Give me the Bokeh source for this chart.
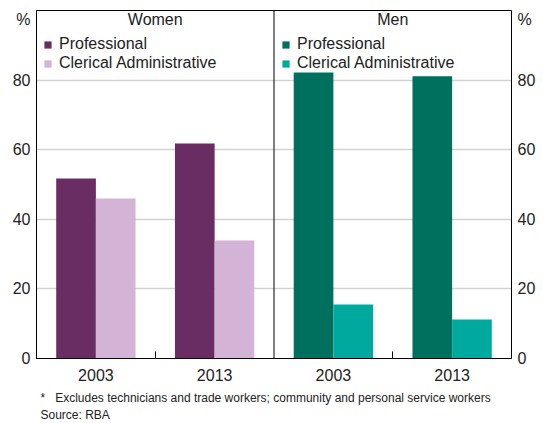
from bokeh.plotting import figure
from bokeh.models import (ColumnDataSource, Range1d, FixedTicker, LinearAxis, Span,
                          Label, Legend, LegendItem, Title)
from bokeh.transform import dodge
from bokeh.embed import file_html
from bokeh.resources import INLINE

# ---- data ----
years = ["2003", "2013"]
panels = ["Women", "Men"]
series = ["Professional", "Clerical Administrative"]
women_prof = [51.7, 61.8]
women_cler = [46.0, 33.9]
men_prof = [82.2, 81.1]
men_cler = [15.5, 11.2]
y_ticks = [0, 20, 40, 60, 80]
unit_label = "%"
footnote = "*\u00a0\u00a0\u00a0Excludes technicians and trade workers; community and personal service workers"
source_note = "Source: RBA"

women_colors = ["#6a2d63", "#d4b4d6"]
men_colors = ["#00705e", "#00a99d"]

FONT = "Liberation Sans"
TXT = "#222222"

# x positions: panel i, year j -> 2*i + j + 0.5
women_x = [j + 0.5 for j in range(len(years))]
men_x = [2 + j + 0.5 for j in range(len(years))]
tick_x = women_x + men_x
tick_labels = years + years

src_w = ColumnDataSource(dict(x=women_x, prof=women_prof, cler=women_cler))
src_m = ColumnDataSource(dict(x=men_x, prof=men_prof, cler=men_cler))

p = figure(width=546, height=423, output_backend="svg", toolbar_location=None,
           x_range=Range1d(0, 4), y_range=Range1d(0, 100),
           min_border_left=36, min_border_right=35, min_border_top=10, min_border_bottom=65,
           y_axis_location=None, x_axis_location=None)
p.outline_line_color = "black"
p.outline_line_width = 1
p.background_fill_color = "white"
p.border_fill_color = "white"

bw = 0.334
d = 0.167
r_wp = p.vbar(x=dodge("x", -d), top="prof", width=bw, source=src_w, color=women_colors[0], line_width=0)
r_wc = p.vbar(x=dodge("x", d), top="cler", width=bw, source=src_w, color=women_colors[1], line_width=0)
r_mp = p.vbar(x=dodge("x", -d), top="prof", width=bw, source=src_m, color=men_colors[0], line_width=0)
r_mc = p.vbar(x=dodge("x", d), top="cler", width=bw, source=src_m, color=men_colors[1], line_width=0)

# axes
xaxis = LinearAxis(ticker=FixedTicker(ticks=tick_x, minor_ticks=[1, 3]))
xaxis.major_label_overrides = {x: lab for x, lab in zip(tick_x, tick_labels)}
xaxis.major_tick_in = 0
xaxis.major_tick_out = 0
xaxis.minor_tick_in = 7
xaxis.minor_tick_out = 0
xaxis.minor_tick_line_color = "black"
xaxis.axis_line_color = "black"
xaxis.major_label_standoff = 10
xaxis.major_label_text_font = FONT
xaxis.major_label_text_font_size = "16px"
xaxis.major_label_text_color = TXT
p.add_layout(xaxis, "below")

unit_pos = 97.4
for side in ("left", "right"):
    ax = LinearAxis(ticker=FixedTicker(ticks=y_ticks + [unit_pos]))
    ax.major_label_overrides = {unit_pos: unit_label}
    ax.major_tick_in = 0
    ax.major_tick_out = 0
    ax.minor_tick_in = 0
    ax.minor_tick_out = 0
    ax.axis_line_color = "black"
    ax.major_label_standoff = 6
    ax.major_label_text_font = FONT
    ax.major_label_text_font_size = "16px"
    ax.major_label_text_color = TXT
    p.add_layout(ax, side)

p.xgrid.visible = False
p.ygrid.ticker = FixedTicker(ticks=y_ticks[1:])
p.ygrid.grid_line_color = "#d2d2d2"
p.ygrid.grid_line_width = 1.5

p.add_layout(Span(location=2, dimension="height", line_color="black", line_width=1))

# panel titles
for i, name in enumerate(panels):
    p.add_layout(Label(x=2 * i + 1, y=339, y_units="screen", text=name, text_align="center",
                       text_baseline="middle", text_font=FONT, text_font_size="16px",
                       text_color=TXT))

# spacer + footnotes
p.add_layout(Title(text=" ", text_font_size="1px", standoff=2), "below")
for txt, so in ((footnote, 1), (source_note, 1)):
    t = Title(text=txt, align="left", offset=4, standoff=so,
              text_font=FONT, text_font_size="12px", text_font_style="normal",
              text_color=TXT)
    p.add_layout(t, "below")

# legends
def make_legend(renderers, xoff):
    lg = Legend(items=[LegendItem(label=s, renderers=[r]) for s, r in zip(series, renderers)],
                location=(xoff, 286), orientation="vertical")
    lg.border_line_color = None
    lg.background_fill_alpha = 0
    lg.padding = 0
    lg.margin = 0
    lg.spacing = 1
    lg.glyph_width = 9
    lg.glyph_height = 9
    lg.label_height = 18
    lg.label_standoff = 7
    lg.label_text_font = FONT
    lg.label_text_font_size = "16px"
    lg.label_text_color = TXT
    lg.label_text_baseline = "middle"
    return lg

p.add_layout(make_legend([r_wp, r_wc], 7), "center")
p.add_layout(make_legend([r_mp, r_mc], 245), "center")

open("out.html", "w").write(file_html(p, INLINE))
